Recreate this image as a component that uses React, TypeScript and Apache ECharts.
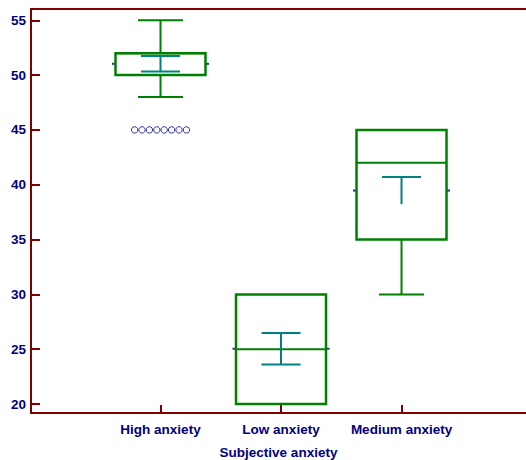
import React, { useEffect, useRef } from "react";
import * as echarts from "echarts";

// Box-and-whisker summary per anxiety group
const categories = ["High anxiety", "Low anxiety", "Medium anxiety"];
const whiskerLow = [48, 20, 30];
const quartile1 = [50, 20, 35];
const medians = [52, 25, 42];
const quartile3 = [52, 30, 45];
const whiskerHigh = [55, 30, 45];
const means = [51.03, 25.04, 39.47];
const ciLow = [50.32, 23.61, 38.23];
const ciHigh = [51.75, 26.47, 40.7];
const outliers = [[45, 45, 45, 45, 45, 45, 45, 45], [], []];
const yTicks = [20, 25, 30, 35, 40, 45, 50, 55];
const xPositions = [1, 2, 3];

// Which confidence bars get a lower cap
const ciLowerCap = [true, true, false];

const AXIS = "#800000";
const TEXT = "#000080";
const GREEN = "#008000";
const TEAL = "#008080";
const BLUE = "#2a2aa8";
const FONT = "Arial, 'Liberation Sans', sans-serif";

export default function App() {
  const ref = useRef<HTMLDivElement>(null);

  useEffect(() => {
    if (!ref.current) return;
    const chart = echarts.init(ref.current, null, { renderer: "svg" });

    const data = categories.map((_, i) => [
      xPositions[i],
      whiskerLow[i],
      quartile1[i],
      medians[i],
      quartile3[i],
      whiskerHigh[i],
      means[i],
      ciLow[i],
      ciHigh[i],
      i,
    ]);

    const line = (x1: number, y1: number, x2: number, y2: number, stroke: string, lineWidth: number) => ({
      type: "line",
      shape: { x1, y1, x2, y2 },
      style: { stroke, lineWidth },
    });

    const renderItem = (params: any, api: any) => {
      const x = api.value(0);
      const idx = api.value(9);
      const cx = api.coord([x, 0])[0];
      const py = (v: number) => api.coord([x, v])[1];
      const yMin = py(api.value(1));
      const yQ1 = py(api.value(2));
      const yMed = py(api.value(3));
      const yQ3 = py(api.value(4));
      const yMax = py(api.value(5));
      const yMean = py(api.value(6));
      const yCiL = py(api.value(7));
      const yCiH = py(api.value(8));

      const halfBox = 45;
      const halfCap = 22.5;
      const halfCi = 19.5;
      const children: any[] = [];

      // whiskers
      if (Math.abs(yMax - yQ3) > 0.5) {
        children.push(line(cx, yQ3, cx, yMax, GREEN, 2));
        children.push(line(cx - halfCap, yMax, cx + halfCap, yMax, GREEN, 2));
      }
      if (Math.abs(yMin - yQ1) > 0.5) {
        children.push(line(cx, yQ1, cx, yMin, GREEN, 2));
        children.push(line(cx - halfCap, yMin, cx + halfCap, yMin, GREEN, 2));
      }

      // mean markers on both sides of the box
      children.push(line(cx - halfBox - 3.5, yMean, cx - halfBox, yMean, BLUE, 2));
      children.push(line(cx + halfBox, yMean, cx + halfBox + 3.5, yMean, BLUE, 2));

      // box
      children.push({
        type: "rect",
        shape: { x: cx - halfBox, y: yQ3, width: halfBox * 2, height: yQ1 - yQ3 },
        style: { fill: "none", stroke: GREEN, lineWidth: 2.5 },
      });
      // median
      children.push(line(cx - halfBox, yMed, cx + halfBox, yMed, GREEN, 2));

      // confidence interval of the mean
      children.push(line(cx, yCiH, cx, yCiL, TEAL, 2));
      children.push(line(cx - halfCi, yCiH, cx + halfCi, yCiH, TEAL, 2));
      if (ciLowerCap[idx]) {
        children.push(line(cx - halfCi, yCiL, cx + halfCi, yCiL, TEAL, 2));
      }

      // outliers, spread side by side
      const outs = outliers[idx];
      const step = 7.4;
      outs.forEach((v, k) => {
        const ox = cx + (k - (outs.length - 1) / 2) * step;
        children.push({
          type: "circle",
          shape: { cx: ox, cy: py(v), r: 3.2 },
          style: { fill: "#ffffff", stroke: BLUE, lineWidth: 1 },
        });
      });

      return { type: "group", children };
    };

    chart.setOption({
      animation: false,
      backgroundColor: "#ffffff",
      grid: { left: 31, right: 0, top: 9, bottom: 47, containLabel: false, outerBoundsMode: "none" },
      xAxis: [
        {
          type: "value",
          min: -0.0747,
          max: 4.033,
          name: "Subjective anxiety",
          nameLocation: "middle",
          nameGap: 32,
          nameTextStyle: { color: TEXT, fontWeight: "bold", fontSize: 13.5, fontFamily: FONT },
          axisLine: { show: true, onZero: false, lineStyle: { color: AXIS, width: 2 } },
          axisTick: { show: true, inside: true, length: 8, customValues: xPositions, lineStyle: { color: AXIS, width: 2 } },
          axisLabel: {
            customValues: xPositions,
            formatter: (v: number) => categories[xPositions.indexOf(Math.round(v))] ?? "",
            color: TEXT,
            fontWeight: "bold",
            fontSize: 13.5,
            fontFamily: FONT,
            margin: 9,
          },
          splitLine: { show: false },
        },
        {
          type: "value",
          position: "top",
          min: -0.0747,
          max: 4.033,
          axisLine: { show: true, onZero: false, lineStyle: { color: AXIS, width: 2 } },
          axisTick: { show: false },
          axisLabel: { show: false },
          splitLine: { show: false },
        },
      ],
      yAxis: {
        type: "value",
        min: 19.18,
        max: 56.03,
        axisLine: { show: true, onZero: false, lineStyle: { color: AXIS, width: 2 } },
        axisTick: { show: true, inside: true, length: 9, customValues: yTicks, lineStyle: { color: AXIS, width: 2 } },
        axisLabel: {
          customValues: yTicks,
          color: TEXT,
          fontWeight: "bold",
          fontSize: 13.5,
          fontFamily: FONT,
          margin: 5,
        },
        splitLine: { show: false },
      },
      series: [
        {
          type: "custom",
          xAxisIndex: 0,
          renderItem,
          encode: { x: 0, y: [1, 2, 3, 4, 5] },
          data,
          clip: false,
        },
      ],
    });

    return () => chart.dispose();
  }, []);

  return (
    <div
      ref={ref}
      style={{ position: "fixed", left: 0, top: 0, width: 526, height: 460, background: "#fff" }}
    />
  );
}
